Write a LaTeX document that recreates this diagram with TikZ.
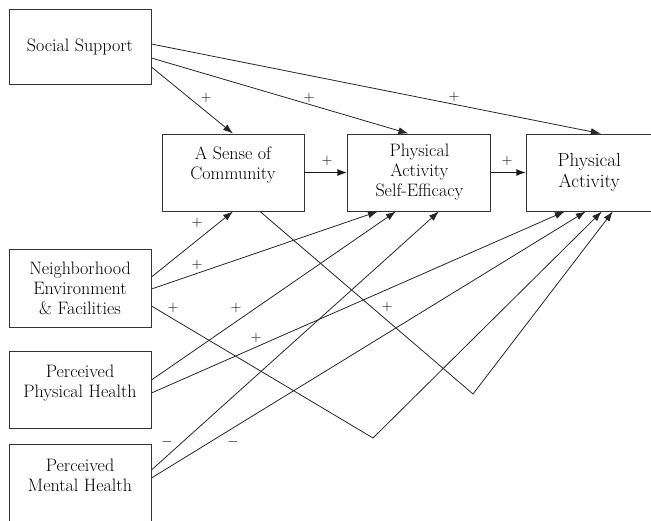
\documentclass[tikz,border=0pt]{standalone}
\usetikzlibrary{arrows.meta,positioning}
\tikzset{
  construct/.style={rectangle, draw=black!80, line width=0.9pt, align=center, minimum width=142pt, minimum height=77pt, inner sep=2pt, font=\fontsize{18}{20}\selectfont},
  link/.style={-{Latex[length=10pt,width=7pt]}, line width=0.8pt, draw=black!85},
  strong/.style={-{Latex[length=10pt,width=7pt]}, line width=1.8pt, draw=black!90},
  sign/.style={inner sep=0pt, font=\fontsize{15}{17}\selectfont}
}
\begin{document}
\begin{tikzpicture}[x=1pt,y=-1pt]
\useasboundingbox (0,0) rectangle (651,520);
\node[construct, minimum height=75pt] (ss) at (80,46.5) {Social Support};
\node[construct] (asc) at (233,172.5) {A Sense of\\Community\\[-8pt]\strut};
\node[construct, minimum width=143pt, right=43pt of asc] (pase) {Physical\\Activity\\Self-Efficacy};
\node[construct, minimum width=125pt, right=35pt of pase, font=\fontsize{19}{21}\selectfont] (pa) {Physical\\Activity};
\node[construct, minimum height=78pt] (nef) at (80,288) {Neighborhood\\Environment\\\& Facilities};
\node[construct] (pph) at (80,389.5) {Perceived\\Physical Health\\[-10pt]\strut};
\node[construct, minimum height=78pt] (pmh) at (80,483) {Perceived\\Mental Health\\[-10pt]\strut};
\coordinate (bendA) at (373,438);
\coordinate (bendB) at (473,394);
\foreach \px/\py/\txt [count=\k] in {206/98/$+$, 309/98/$+$, 454/97/$+$, 327/161/$+$, 507/161/$+$, 197/223/$+$, 197/265/$+$, 173/308/$+$, 236/308/$+$, 256/338/$+$, 387/307/$+$, 167/442/$-$, 233/442/$-$}
  \node[sign] (sign\k) at (\px,\py) {\txt};
\draw[link] ([yshift=-20.5pt]ss.east) -- (asc.north);
\draw[link] ([yshift=-11.5pt]ss.east) -- ([xshift=-11pt]pase.north);
\draw[link] ([yshift=2.5pt]ss.east) -- ([xshift=11.5pt]pa.north);
\draw[strong] (asc.east) -- (pase.west);
\draw[strong] (pase.east) -- (pa.west);
\draw[link] ([yshift=11pt]nef.east) -- (asc.south);
\draw[link] ([yshift=-1pt]nef.east) -- ([xshift=-41.5pt]pase.south);
\draw[link] ([yshift=-18pt]nef.east) -- (bendA) -- ([xshift=12.5pt]pa.south);
\draw[link] ([xshift=27pt]asc.south) -- (bendB) -- ([xshift=23.5pt]pa.south);
\draw[link] ([yshift=9.5pt]pph.east) -- ([xshift=-23.5pt]pase.south);
\draw[link] ([yshift=-3.5pt]pph.east) -- ([xshift=-24.5pt]pa.south);
\draw[link] ([yshift=13pt]pmh.east) -- ([xshift=19.5pt]pase.south);
\draw[link] ([yshift=5pt]pmh.east) -- ([xshift=-3.5pt]pa.south);
\end{tikzpicture}
\end{document}
